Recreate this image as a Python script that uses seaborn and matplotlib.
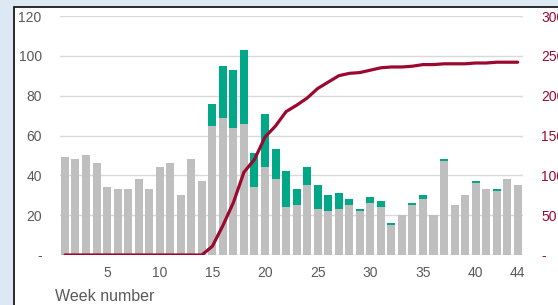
import matplotlib
matplotlib.use("Agg")
import matplotlib.pyplot as plt
from matplotlib.patches import Rectangle
import seaborn as sns
import numpy as np
import pandas as pd

# ---- Data ----
weeks = list(range(1, 45))
base_vals = [49, 48, 50, 46, 34, 33, 33, 38, 33, 44,
             46, 30, 48, 37, 65, 69, 64, 66, 34, 44,
             38, 24, 25, 35, 23, 22, 23, 25, 22, 26,
             24, 15, 20, 25, 28, 20, 47, 25, 30, 36,
             33, 32, 38, 35]
extra_vals = [0, 0, 0, 0, 0, 0, 0, 0, 0, 0,
              0, 0, 0, 0, 11, 26, 29, 37, 17, 27,
              15, 18, 8, 9, 12, 8, 8, 3, 1, 3,
              3, 1, 0, 1, 2, 0, 1, 0, 0, 1,
              0, 1, 0, 0]
cumulative = [0, 0, 0, 0, 0, 0, 0, 0, 0, 0,
              0, 0, 0, 0, 11, 37, 66, 104, 120, 148,
              162, 180, 188, 197, 209, 217, 225, 228, 229, 232,
              235, 236, 236, 237, 239, 239, 240, 240, 240, 241,
              241, 242, 242, 242]
left_ticks = [0, 20, 40, 60, 80, 100, 120]
right_ticks = [0, 50, 100, 150, 200, 250, 300]
x_ticks = [5, 10, 15, 20, 25, 30, 35, 40, 44]

GREY = "#bfbfbf"
GREEN = "#00a887"
RED = "#9b0a2e"

df = pd.DataFrame({"week": weeks, "base": base_vals, "extra": extra_vals, "cum": cumulative})
df["total"] = df["base"] + df["extra"]

sns.set_theme(style="white")
plt.rcParams["font.family"] = ["Liberation Sans", "DejaVu Sans"]

fig = plt.figure(figsize=(5.58, 3.05), dpi=100)
fig.patch.set_facecolor("#dce8f4")
# white panel with dark border
panel = Rectangle((14 / 558, -0.1), 1.2, 1 - 7 / 305 + 0.1, transform=fig.transFigure,
                  facecolor="white", edgecolor="#1a1a1a", linewidth=1.3, zorder=-10)
fig.patches.append(panel)

ax = fig.add_axes([59.7 / 558, 1 - 255 / 305, (523 - 59.7) / 558, (255 - 16) / 305])
ax.set_facecolor("none")

bw = 0.76
ax.bar(df["week"], df["total"], width=bw, color=GREEN, zorder=2, linewidth=0)
ax.bar(df["week"], df["base"], width=bw, color=GREY, zorder=3, linewidth=0)

ax.set_xlim(0.5, 44.5)
ax.set_ylim(0, 120)
ax.set_yticks(left_ticks)
ax.set_yticklabels(["-" if v == 0 else str(v) for v in left_ticks])
ax.set_xticks(x_ticks)
ax.set_xticklabels([str(v) for v in x_ticks])
ax.yaxis.grid(True, color="#d9d9d9", linewidth=1.0, zorder=0)
ax.set_axisbelow(True)
for s in ax.spines.values():
    s.set_visible(False)
ax.tick_params(axis="both", length=0, labelsize=10, colors="#595959")
ax.tick_params(axis="y", pad=13)
ax.tick_params(axis="x", pad=8)
ax.axhline(0, color="#d9d9d9", linewidth=1.0, zorder=1)

ax2 = ax.twinx()
sns.lineplot(data=df, x="week", y="cum", ax=ax2, color=RED, linewidth=2.3, zorder=5)
ax2.set_ylim(0, 300)
ax2.set_yticks(right_ticks)
ax2.set_yticklabels(["-" if v == 0 else str(v) for v in right_ticks])
ax2.set_ylabel("")
ax2.set_xlabel("")
for s in ax2.spines.values():
    s.set_visible(False)
ax2.tick_params(axis="y", length=0, labelsize=10, colors=RED, pad=13)
ax2.set_xlim(0.5, 44.5)

fig.text(55 / 558, 1 - 301 / 305, "Week number", fontsize=11.5, color="#595959",
         ha="left", va="baseline")

fig.savefig("out.png", dpi=100, facecolor=fig.get_facecolor())
